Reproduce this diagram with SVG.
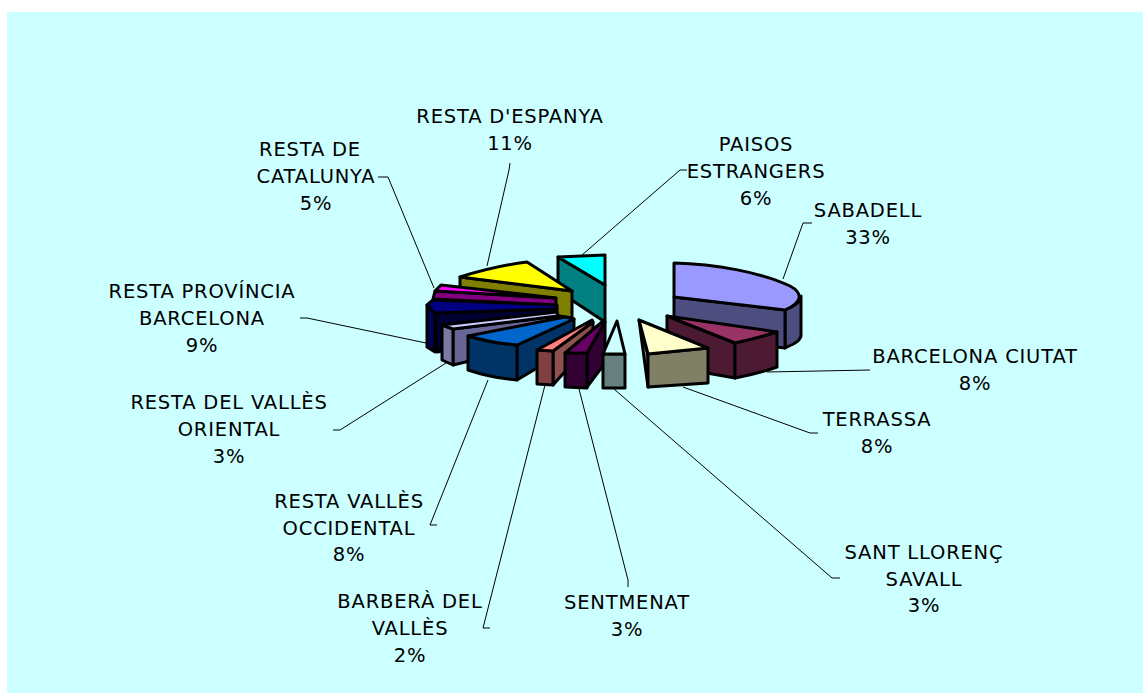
<svg xmlns="http://www.w3.org/2000/svg" width="1143" height="693" viewBox="0 0 1143 693">
<style>
.s{stroke:#000;stroke-width:3;stroke-linejoin:round}
.l{fill:none;stroke:#000;stroke-width:1}
text{font-family:"DejaVu Sans",Verdana,sans-serif;font-size:19.5px;letter-spacing:0.8px;fill:#000;text-anchor:middle}
</style>
<rect x="0" y="0" width="1143" height="693" fill="#FFFFFF"/>
<rect x="7" y="12" width="1136" height="681" fill="#CCFFFF"/>
<g id="connectors">
<polyline class="l" points="510,163 509,170 487,266"/>
<polyline class="l" points="378,177 388,177 434,288"/>
<polyline class="l" points="687,170 680,170 582,255"/>
<polyline class="l" points="812,223 803,223 783,279"/>
<polyline class="l" points="870,370 767,372"/>
<polyline class="l" points="818,433 810,433 683,387"/>
<polyline class="l" points="840,578 832,578 614,389"/>
<polyline class="l" points="628,587 628,580 579,389"/>
<polyline class="l" points="490,628 483,628 545,385"/>
<polyline class="l" points="437,525 430,525 488,380"/>
<polyline class="l" points="333,430 340,430 446,363"/>
<polyline class="l" points="300,318 307,318 426,343"/>
</g>
<g id="paisos">
<polygon class="s" fill="#008080" points="558,257 605,285 605,322 558,291"/>
<polygon class="s" fill="#00FFFF" points="558,257 605,255 605,285"/>
</g>
<g id="resta-espanya">
<polygon class="s" fill="#808000" points="460,277 572,291 572,318 460,300"/>
<path class="s" fill="#FFFF00" d="M460,277 Q495,266 527,262 L572,291 Z"/>
</g>
<g id="resta-catalunya">
<polygon class="s" fill="#800080" points="435,291 556,298 556,305 433,299"/>
<polygon class="s" fill="#FF00FF" points="441,285 435,291 556,298"/>
</g>
<g id="resta-provincia">
<polygon class="s" fill="#000033" points="435,313 557,309 557,330 437,352"/>
<polygon class="s" fill="#000055" points="427,305 435,313 435,352 427,347"/>
<polygon class="s" fill="#000080" points="433,300 557,305 557,309 435,313 427,305"/>
</g>
<g id="resta-oriental">
<polygon class="s" fill="#666699" points="453,329 558,316 558,340 453,365"/>
<polygon class="s" fill="#7A7AA3" points="442,325 453,329 453,365 442,360"/>
<polygon class="s" fill="#CCCCFF" points="442,325 557,312 558,316 453,329"/>
</g>
<g id="resta-occidental">
<polygon class="s" fill="#003366" points="517,345 574,319 574,346 517,380"/>
<path class="s" fill="#003366" d="M468,336 Q492,343 517,345 L517,380 Q492,378 468,370 Z"/>
<path class="s" fill="#0066CC" d="M468,336 L565,317 L574,319 L517,345 Q492,343 468,336 Z"/>
</g>
<g id="barbera">
<polygon class="s" fill="#8F5050" points="553,351 593,322 593,340 553,385"/>
<polygon class="s" fill="#804040" points="537,350 553,351 553,385 537,384"/>
<polygon class="s" fill="#FF8080" points="537,350 553,351 593,322 592,320"/>
</g>
<g id="sentmenat">
<polygon class="s" fill="#330033" points="587,353 605,322 605,363 587,387"/>
<polygon class="s" fill="#330033" points="565,353 587,353 587,388 565,387"/>
<polygon class="s" fill="#660066" points="565,353 587,353 605,322 602,322"/>
</g>
<g id="sant-llorenc">
<rect class="s" fill="#668080" x="603" y="354" width="22" height="34"/>
<polygon class="s" fill="#CCFFFF" points="617,321 603,354 625,354"/>
</g>
<g id="sabadell">
<path class="s" fill="#4D4D80" d="M785,310 C794,306 802,301 801,296 L801,336 C800,341 794,344 785,348 Z"/>
<polygon class="s" fill="#4D4D80" points="674,297 785,310 785,348 674,335"/>
<path class="s" fill="#9999FF" d="M674,263 C715,264 760,272 790,286 C803,293 803,302 785,310 L674,297 Z"/>
</g>
<g id="barcelona">
<polygon class="s" fill="#4D1A33" points="667,316 735,343 735,378 667,366"/>
<path class="s" fill="#4D1A33" d="M735,343 Q757,338 777,332 L777,367 Q757,374 735,378 Z"/>
<path class="s" fill="#993366" d="M667,316 L777,332 Q757,338 735,343 Z"/>
</g>
<g id="terrassa">
<polygon class="s" fill="#808066" points="639,320 648,354 648,387"/>
<polygon class="s" fill="#808066" points="648,354 708,348 708,383 648,387"/>
<polygon class="s" fill="#FFFFCC" points="639,320 708,348 648,354"/>
</g>
<g id="labels">
<text x="510" y="123">RESTA D'ESPANYA</text>
<text x="510" y="150">11%</text>
<text x="310" y="156">RESTA DE</text>
<text x="316" y="183">CATALUNYA</text>
<text x="316" y="210">5%</text>
<text x="756" y="151">PAISOS</text>
<text x="756" y="178">ESTRANGERS</text>
<text x="756" y="205">6%</text>
<text x="868" y="217">SABADELL</text>
<text x="868" y="244">33%</text>
<text x="975" y="363">BARCELONA CIUTAT</text>
<text x="975" y="390">8%</text>
<text x="877" y="426">TERRASSA</text>
<text x="877" y="453">8%</text>
<text x="924" y="559">SANT LLORENÇ</text>
<text x="924" y="586">SAVALL</text>
<text x="924" y="612">3%</text>
<text x="627" y="609">SENTMENAT</text>
<text x="627" y="636">3%</text>
<text x="410" y="608">BARBERÀ DEL</text>
<text x="410" y="635">VALLÈS</text>
<text x="410" y="662">2%</text>
<text x="349" y="508">RESTA VALLÈS</text>
<text x="349" y="535">OCCIDENTAL</text>
<text x="349" y="561">8%</text>
<text x="229" y="409">RESTA DEL VALLÈS</text>
<text x="229" y="436">ORIENTAL</text>
<text x="229" y="463">3%</text>
<text x="202" y="298">RESTA PROVÍNCIA</text>
<text x="202" y="325">BARCELONA</text>
<text x="202" y="352">9%</text>
</g>
</svg>
